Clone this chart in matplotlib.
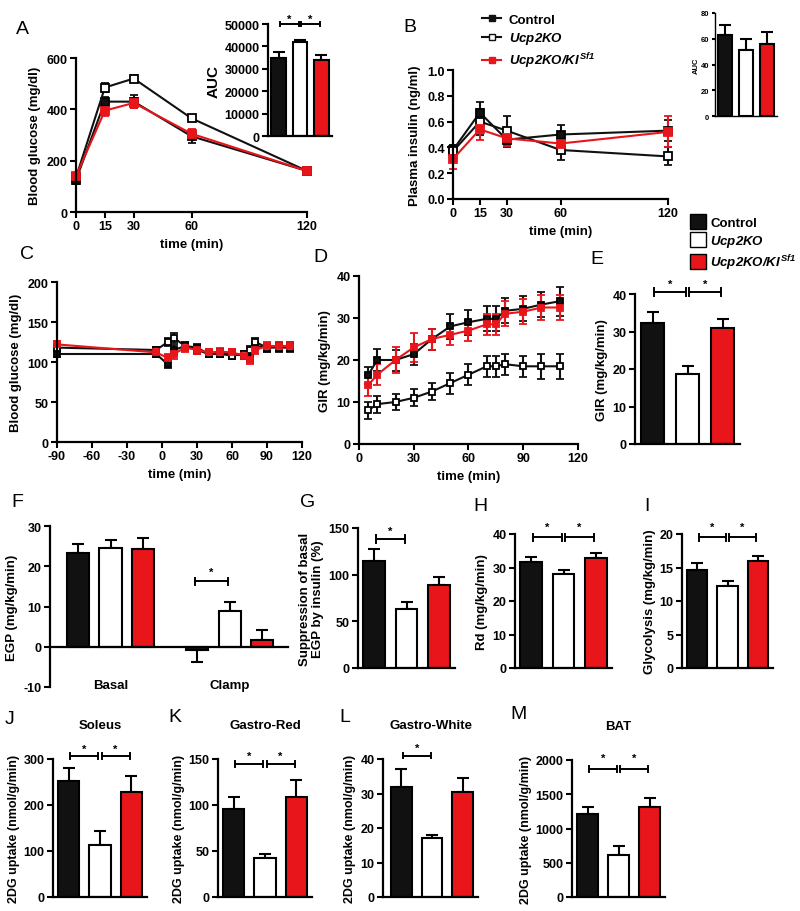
import matplotlib
matplotlib.use("Agg")
import matplotlib.pyplot as plt
from matplotlib.lines import Line2D
from matplotlib.patches import Patch

# ---------------- data ----------------
groups = ["Control", "Ucp2KO", "Ucp2KO/KI Sf1"]
BLACK, WHITE, RED = "#111111", "#ffffff", "#e8151b"

# A: glucose tolerance
gtt_t = [0, 15, 30, 60, 120]
gtt_ctrl = [125, 430, 430, 295, 160]
gtt_ctrl_err = [15, 20, 25, 25, 8]
gtt_ko = [135, 485, 520, 365, 160]
gtt_ko_err = [12, 18, 15, 12, 8]
gtt_ki = [140, 395, 425, 305, 160]
gtt_ki_err = [12, 20, 20, 20, 8]
auc_a = [35000, 42000, 34000]
auc_a_err = [2500, 1000, 2000]

# B: plasma insulin
ins_t = [0, 15, 30, 60, 120]
ins_ctrl = [0.38, 0.67, 0.46, 0.50, 0.53]
ins_ctrl_err = [0.04, 0.08, 0.06, 0.07, 0.08]
ins_ko = [0.37, 0.60, 0.53, 0.38, 0.33]
ins_ko_err = [0.05, 0.10, 0.11, 0.08, 0.07]
ins_ki = [0.31, 0.54, 0.47, 0.43, 0.52]
ins_ki_err = [0.08, 0.08, 0.06, 0.07, 0.12]
auc_b = [63, 51, 56]
auc_b_err = [8, 9, 9]

# C: clamp blood glucose
clamp_t = [-90, -5, 5, 10, 20, 30, 40, 50, 60, 70, 75, 80, 90, 100, 110]
bg_ctrl = [110, 110, 97, 115, 120, 118, 110, 112, 110, 108, 105, 120, 118, 120, 120]
bg_ko = [118, 115, 125, 130, 120, 115, 110, 110, 108, 110, 115, 125, 118, 118, 118]
bg_ki = [122, 112, 105, 110, 118, 115, 112, 113, 112, 108, 102, 115, 120, 120, 120]
bg_err = [4, 4, 5, 6, 5, 5, 4, 4, 4, 4, 5, 5, 5, 5, 5]

# D: glucose infusion rate
gir_t = [5, 10, 20, 30, 40, 50, 60, 70, 75, 80, 90, 100, 110]
gir_ctrl = [16.4, 20.0, 20.0, 21.4, 25.0, 28.0, 29.0, 29.8, 29.8, 31.7, 32.2, 33.2, 34.0]
gir_ctrl_err = [2, 2.7, 2.5, 2.5, 2.5, 3, 3, 3, 3, 3, 3, 3, 3.5]
gir_ko = [8.0, 9.5, 10.0, 11.0, 12.5, 14.5, 16.5, 18.5, 18.5, 19.0, 18.5, 18.5, 18.5]
gir_ko_err = [2, 2, 2, 2, 2, 2.5, 2.5, 2.5, 2.5, 2.5, 2.5, 3, 3]
gir_ki = [14.0, 16.5, 20.0, 23.0, 25.0, 26.0, 27.0, 28.5, 28.5, 31.0, 31.5, 32.5, 32.5]
gir_ki_err = [2.5, 2.5, 3, 3.5, 2.5, 2.5, 2.5, 2.5, 2.5, 3, 3, 3, 3]

gir_bar = [32.3, 18.7, 31.0]
gir_bar_err = [3.0, 2.2, 2.3]

# F-I
egp_basal = [23.2, 24.6, 24.2]
egp_basal_err = [2.3, 2.0, 2.8]
egp_clamp = [-0.8, 9.0, 1.6]
egp_clamp_err = [3.0, 2.0, 2.5]
supp = [115, 63, 89]
supp_err = [12, 8, 9]
rd = [31.5, 28.2, 32.8]
rd_err = [1.5, 1.0, 1.5]
glyco = [14.7, 12.3, 15.9]
glyco_err = [1.0, 0.7, 0.8]

# J-M: 2DG uptake
soleus = [252, 113, 229]
soleus_err = [28, 30, 35]
gred = [96, 42, 109]
gred_err = [13, 5, 18]
gwhite = [32, 17, 30.5]
gwhite_err = [5, 1, 4]
bat = [1210, 620, 1320]
bat_err = [100, 130, 130]

# ---------------- style ----------------
plt.rcParams["font.family"] = ["Liberation Sans", "DejaVu Sans"]
plt.rcParams["font.weight"] = "bold"
plt.rcParams["axes.labelweight"] = "bold"
plt.rcParams["axes.titleweight"] = "bold"
plt.rcParams["axes.unicode_minus"] = False
plt.rcParams["axes.linewidth"] = 1.6
plt.rcParams["mathtext.fontset"] = "custom"
plt.rcParams["mathtext.it"] = "Liberation Sans:italic:bold"
plt.rcParams["mathtext.rm"] = "Liberation Sans:italic:bold"
plt.rcParams["mathtext.bf"] = "Liberation Sans:italic:bold"

TICK_FS = 9
LAB_FS = 9.5

W, H = 800, 912
fig = plt.figure(figsize=(W / 100, H / 100), dpi=100)
colors = [BLACK, WHITE, RED]


def px_axes(l, t, r, b):
    return fig.add_axes([l / W, 1 - b / H, (r - l) / W, (b - t) / H])


def style(ax, fs=TICK_FS, tl=4):
    for s in ["top", "right"]:
        ax.spines[s].set_visible(False)
    ax.tick_params(direction="out", length=tl, width=1.5, labelsize=fs, pad=2)


def letter(x, y, s):
    fig.text(x / W, 1 - y / H, s, fontsize=14, fontweight="normal",
             ha="center", va="center")


def sig(ax, x1, x2, y, h, star_dy):
    ax.plot([x1, x2], [y, y], color="black", lw=1.4, clip_on=False)
    ax.plot([x1, x1], [y - h, y + h], color="black", lw=1.4, clip_on=False)
    ax.plot([x2, x2], [y - h, y + h], color="black", lw=1.4, clip_on=False)
    ax.text((x1 + x2) / 2, y + star_dy, "*", ha="center", va="center",
            fontsize=8, clip_on=False)


def bars(ax, xs, vals, errs, width=0.68):
    ax.bar(xs, vals, width=width, color=colors, edgecolor="black",
           linewidth=1.5, zorder=2)
    lower = [e if v < 0 else 0 for v, e in zip(vals, errs)]
    upper = [0 if v < 0 else e for v, e in zip(vals, errs)]
    ax.errorbar(xs, vals, yerr=[lower, upper], fmt="none", ecolor="black",
                elinewidth=1.5, capsize=4, capthick=1.5, zorder=1)


def bar_panel(l, t, r, b, vals, errs, ylim, yticks, ylabel, fs=LAB_FS):
    ax = px_axes(l, t, r, b)
    bars(ax, [0, 1, 2], vals, errs)
    ax.set_xlim(-0.5, 2.5)
    ax.set_ylim(*ylim)
    ax.set_yticks(yticks)
    ax.set_xticks([])
    ax.set_ylabel(ylabel, fontsize=fs, labelpad=3)
    style(ax)
    return ax


def lines(ax, x, series, ms=6):
    for y, e, fc, lc in series:
        ax.errorbar(x, y, yerr=e, color=lc, marker="s", ms=ms, mfc=fc,
                    mec="black" if lc == BLACK else RED, mew=1.3,
                    ecolor=lc, elinewidth=1.5, capsize=3, capthick=1.5,
                    lw=1.5, clip_on=False)


# ---------------- A ----------------
ax = px_axes(76, 59, 307, 213)
lines(ax, gtt_t, [(gtt_ctrl, gtt_ctrl_err, BLACK, BLACK),
                  (gtt_ko, gtt_ko_err, WHITE, BLACK),
                  (gtt_ki, gtt_ki_err, RED, RED)])
ax.set_xlim(0, 120)
ax.set_ylim(0, 600)
ax.set_xticks(gtt_t)
ax.set_yticks([0, 200, 400, 600])
ax.set_xlabel("time (min)", fontsize=LAB_FS)
ax.set_ylabel("Blood glucose (mg/dl)", fontsize=LAB_FS)
style(ax)

ax = bar_panel(268, 25, 332, 137, auc_a, auc_a_err, (0, 50000),
               [0, 10000, 20000, 30000, 40000, 50000], "AUC", fs=11)
sig(ax, 0.05, 0.95, 50000, 900, 2500)
sig(ax, 1.05, 1.95, 50000, 900, 2500)
letter(22, 29, "A")

# ---------------- B ----------------
ax = px_axes(453, 71, 668, 200)
lines(ax, ins_t, [(ins_ctrl, ins_ctrl_err, BLACK, BLACK),
                  (ins_ko, ins_ko_err, WHITE, BLACK),
                  (ins_ki, ins_ki_err, RED, RED)])
ax.set_xlim(0, 120)
ax.set_ylim(0, 1.0)
ax.set_xticks(ins_t)
ax.set_yticks([0, 0.2, 0.4, 0.6, 0.8, 1.0])
ax.set_xlabel("time (min)", fontsize=LAB_FS)
ax.set_ylabel("Plasma insulin (ng/ml)", fontsize=LAB_FS)
style(ax)

ax = px_axes(715, 14, 777, 117)
bars(ax, [0, 1, 2], auc_b, auc_b_err)
ax.set_xlim(-0.5, 2.5)
ax.set_ylim(0, 80)
ax.set_yticks([0, 20, 40, 60, 80])
ax.set_xticks([])
ax.set_ylabel("AUC", fontsize=5.5, labelpad=1)
style(ax, fs=5.5, tl=2)
for s in ["left", "bottom"]:
    ax.spines[s].set_linewidth(1.0)
letter(410, 27, "B")

h_line = [Line2D([], [], color=BLACK, marker="s", ms=5, mfc=BLACK, lw=1.5),
          Line2D([], [], color=BLACK, marker="s", ms=5, mfc=WHITE, lw=1.5),
          Line2D([], [], color=RED, marker="s", ms=5, mfc=RED, mec=RED, lw=1.5)]
fig.legend(h_line, ["Control", r"$Ucp2KO$", r"$Ucp2KO/KI^{Sf1}$"],
           loc="upper left", bbox_to_anchor=(477 / W, 1 - 9 / H), frameon=False,
           fontsize=9.5, handlelength=1.4, labelspacing=0.35, handletextpad=0.6,
           borderaxespad=0)

h_patch = [Patch(facecolor=c, edgecolor="black", linewidth=1.0) for c in colors]
fig.legend(h_patch, ["Control", r"$Ucp2KO$", r"$Ucp2KO/KI^{Sf1}$"],
           loc="upper left", bbox_to_anchor=(685 / W, 1 - 210 / H), frameon=False,
           fontsize=9.5, handlelength=1.2, handleheight=1.3, labelspacing=0.25,
           handletextpad=0.3, borderaxespad=0)

# ---------------- C ----------------
ax = px_axes(57, 283, 302, 443)
lines(ax, clamp_t, [(bg_ctrl, bg_err, BLACK, BLACK),
                    (bg_ko, bg_err, WHITE, BLACK),
                    (bg_ki, bg_err, RED, RED)], ms=5)
ax.set_xlim(-90, 120)
ax.set_ylim(0, 200)
ax.set_xticks(range(-90, 121, 30))
ax.set_yticks([0, 50, 100, 150, 200])
ax.set_xlabel("time (min)", fontsize=LAB_FS)
ax.set_ylabel("Blood glucose (mg/dl)", fontsize=LAB_FS)
style(ax)
letter(27, 255, "C")

# ---------------- D ----------------
ax = px_axes(359, 277, 578, 445)
lines(ax, gir_t, [(gir_ctrl, gir_ctrl_err, BLACK, BLACK),
                  (gir_ko, gir_ko_err, WHITE, BLACK),
                  (gir_ki, gir_ki_err, RED, RED)], ms=5)
ax.set_xlim(0, 120)
ax.set_ylim(0, 40)
ax.set_xticks(range(0, 121, 30))
ax.set_yticks(range(0, 41, 10))
ax.set_xlabel("time (min)", fontsize=LAB_FS)
ax.set_ylabel("GIR (mg/kg/min)", fontsize=LAB_FS)
style(ax)
letter(320, 258, "D")

# ---------------- E ----------------
ax = bar_panel(635, 295, 740, 445, gir_bar, gir_bar_err, (0, 40),
               range(0, 41, 10), "GIR (mg/kg/min)")
sig(ax, 0.05, 0.95, 40.5, 1.0, 2.2)
sig(ax, 1.05, 1.95, 40.5, 1.0, 2.2)
letter(597, 260, "E")

# ---------------- F ----------------
ax = px_axes(50, 527, 288, 688)
bars(ax, [0, 1, 2], egp_basal, egp_basal_err)
bars(ax, [3.66, 4.66, 5.66], egp_clamp, egp_clamp_err)
ax.set_xlim(-0.86, 6.45)
ax.set_ylim(-10, 30)
ax.set_yticks([-10, 0, 10, 20, 30])
ax.set_xticks([])
ax.spines["bottom"].set_position(("data", 0))
ax.set_ylabel("EGP (mg/kg/min)", fontsize=LAB_FS)
style(ax)
ax.text(1, -9.5, "Basal", ha="center", va="center", fontsize=LAB_FS)
ax.text(4.66, -9.5, "Clamp", ha="center", va="center", fontsize=LAB_FS)
sig(ax, 3.6, 4.6, 16.3, 0.9, 2.2)
letter(17, 503, "F")

# ---------------- G ----------------
ax = bar_panel(358, 529, 455, 669, supp, supp_err, (0, 150), [0, 50, 100, 150],
               "Suppression of basal\nEGP by insulin (%)")
sig(ax, 0.05, 0.95, 138, 4, 9)
letter(308, 503, "G")

# ---------------- H ----------------
ax = bar_panel(515, 535, 612, 669, rd, rd_err, (0, 40), range(0, 41, 10),
               "Rd (mg/kg/min)")
sig(ax, 0.05, 0.95, 39, 1.0, 3)
sig(ax, 1.05, 1.95, 39, 1.0, 3)
letter(480, 507, "H")

# ---------------- I ----------------
ax = bar_panel(682, 535, 773, 669, glyco, glyco_err, (0, 20), range(0, 21, 5),
               "Glycolysis (mg/kg/min)")
sig(ax, 0.05, 0.95, 19.5, 0.5, 1.5)
sig(ax, 1.05, 1.95, 19.5, 0.5, 1.5)
letter(647, 507, "I")

# ---------------- J-M ----------------
ylab = "2DG uptake (nmol/g/min)"
ax = bar_panel(53, 760, 147, 898, soleus, soleus_err, (0, 300), range(0, 301, 100), ylab, fs=9)
ax.set_title("Soleus", fontsize=LAB_FS, pad=22)
sig(ax, 0.05, 0.95, 306, 6, 17)
sig(ax, 1.05, 1.95, 306, 6, 17)
letter(10, 720, "J")

ax = bar_panel(218, 760, 312, 898, gred, gred_err, (0, 150), range(0, 151, 50), ylab, fs=9)
ax.set_title("Gastro-Red", fontsize=LAB_FS, pad=22)
sig(ax, 0.05, 0.95, 144.5, 3, 9)
sig(ax, 1.05, 1.95, 144.5, 3, 9)
letter(175, 718, "K")

ax = bar_panel(383, 760, 478, 898, gwhite, gwhite_err, (0, 40), range(0, 41, 10), ylab, fs=9)
ax.set_xlim(-0.6, 2.5)
ax.set_title("Gastro-White", fontsize=LAB_FS, pad=22)
sig(ax, 0.05, 0.95, 41, 0.8, 2.3)
letter(345, 718, "L")

ax = bar_panel(572, 761, 665, 898, bat, bat_err, (0, 2000), range(0, 2001, 500), ylab, fs=9)
ax.set_title("BAT", fontsize=LAB_FS, pad=22)
sig(ax, 0.05, 0.95, 1870, 40, 160)
sig(ax, 1.05, 1.95, 1870, 40, 160)
letter(518, 715, "M")

fig.savefig("out.png", dpi=100)
